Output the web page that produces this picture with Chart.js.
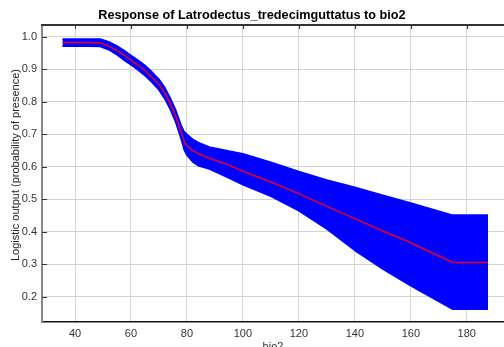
<!DOCTYPE html>
<html><head><meta charset="utf-8">
<script src="https://cdn.jsdelivr.net/npm/chart.js@4/dist/chart.umd.min.js"></script>
<style>html,body{margin:0;padding:0;background:#fff;}canvas{display:block;}</style>
</head><body>
<canvas id="c" width="504" height="347"></canvas>
<script>
const chartTitle = "Response of Latrodectus_tredecimguttatus to bio2";
const xLabel = "bio2";
const yLabel = "Logistic output (probability of presence)";

const bio2 =         [35.5, 40, 45, 49, 52, 55, 58, 60, 62, 65, 67, 70, 72, 74, 76, 78, 79, 80, 82, 84, 88, 95, 100, 110, 120, 130, 140, 150, 160, 175, 187.6];
const meanResponse = [0.982,0.982,0.982,0.981,0.972,0.958,0.940,0.928,0.916,0.896,0.880,0.853,0.828,0.795,0.755,0.705,0.677,0.665,0.650,0.640,0.626,0.605,0.586,0.553,0.517,0.478,0.440,0.402,0.366,0.305,0.305];
const upperBand =    [0.993,0.993,0.993,0.993,0.985,0.972,0.955,0.943,0.931,0.912,0.896,0.869,0.845,0.812,0.774,0.726,0.708,0.700,0.685,0.675,0.661,0.648,0.640,0.614,0.585,0.559,0.537,0.512,0.488,0.451,0.451];
const lowerBand =    [0.971,0.971,0.971,0.970,0.960,0.944,0.925,0.913,0.901,0.880,0.864,0.836,0.810,0.777,0.736,0.683,0.652,0.635,0.615,0.603,0.593,0.565,0.544,0.509,0.464,0.408,0.342,0.285,0.233,0.161,0.161];

const xTicks = [40, 60, 80, 100, 120, 140, 160, 180];
const yTicks = [0.2, 0.3, 0.4, 0.5, 0.6, 0.7, 0.8, 0.9, 1.0];

const FONT = "'Liberation Sans', Arial, Helvetica, sans-serif";
const pts = ys => bio2.map((x, i) => ({x: x, y: ys[i]}));

const framePlugin = {
  id: 'frame',
  afterDraw(chart) {
    const ctx = chart.ctx, a = chart.chartArea;
    const xs = chart.scales.x, ys = chart.scales.y;
    ctx.save();
    ctx.strokeStyle = '#333';
    ctx.lineWidth = 2;
    ctx.beginPath(); ctx.moveTo(a.left - 1, a.top); ctx.lineTo(a.right, a.top); ctx.stroke();
    ctx.lineWidth = 1;
    xTicks.forEach(v => {
      const px = Math.round(xs.getPixelForValue(v)) + 0.5;
      ctx.beginPath(); ctx.moveTo(px, a.top); ctx.lineTo(px, a.top + 4); ctx.stroke();
    });
    yTicks.forEach(v => {
      const py = Math.round(ys.getPixelForValue(v)) + 0.5;
      ctx.beginPath(); ctx.moveTo(a.left, py); ctx.lineTo(a.left + 5, py); ctx.stroke();
    });
    ctx.fillStyle = '#222';
    ctx.font = "11px " + FONT;
    ctx.textAlign = 'center';
    ctx.textBaseline = 'middle';
    ctx.translate(16, 165);
    ctx.rotate(-Math.PI / 2);
    ctx.fillText(yLabel, 0, 0);
    ctx.restore();
  }
};

const lineBase = { pointRadius: 0, tension: 0, borderJoinStyle: 'round' };

new Chart(document.getElementById('c'), {
  type: 'line',
  data: {
    datasets: [
      Object.assign({ label: 'mean', data: pts(meanResponse), borderColor: '#e6002a', borderWidth: 1.5, fill: false }, lineBase),
      Object.assign({ label: 'upper', data: pts(upperBand), borderColor: '#0000ff', backgroundColor: '#0000ff', borderWidth: 1.5, fill: 2 }, lineBase),
      Object.assign({ label: 'lower', data: pts(lowerBand), borderColor: '#0000ff', backgroundColor: '#0000ff', borderWidth: 1.5, fill: false }, lineBase)
    ]
  },
  options: {
    responsive: false,
    animation: false,
    events: [],
    layout: { padding: { left: 0, right: 0, top: 0, bottom: 0 } },
    plugins: {
      legend: { display: false },
      tooltip: { enabled: false },
      title: {
        display: true, text: chartTitle, color: '#000',
        font: { family: FONT, size: 12.7, weight: 'bold' },
        padding: { top: 8, bottom: 1.8 }
      }
    },
    scales: {
      x: {
        type: 'linear', min: 28.2, max: 193.3,
        afterBuildTicks: s => { s.ticks = xTicks.map(v => ({ value: v })); },
        afterFit: s => { s.height = 25; },
        grid: { color: '#d2d2d2', lineWidth: 1, drawTicks: false },
        border: { display: true, color: '#111', width: 1.5 },
        ticks: { color: '#333', font: { family: FONT, size: 11 }, padding: 5, maxRotation: 0, autoSkip: false },
        title: { display: true, text: xLabel, color: '#333', font: { family: FONT, size: 11 }, padding: { top: 0, bottom: -7 } }
      },
      y: {
        type: 'linear', min: 0.122, max: 1.036,
        afterBuildTicks: s => { s.ticks = yTicks.map(v => ({ value: v })); },
        afterFit: s => { s.width = 42; },
        grid: { color: '#d2d2d2', lineWidth: 1, drawTicks: false },
        border: { display: true, color: '#888', width: 2 },
        ticks: { color: '#333', font: { family: FONT, size: 11 }, padding: 5, callback: v => v.toFixed(1) }
      }
    }
  },
  plugins: [framePlugin]
});
</script>
</body></html>
